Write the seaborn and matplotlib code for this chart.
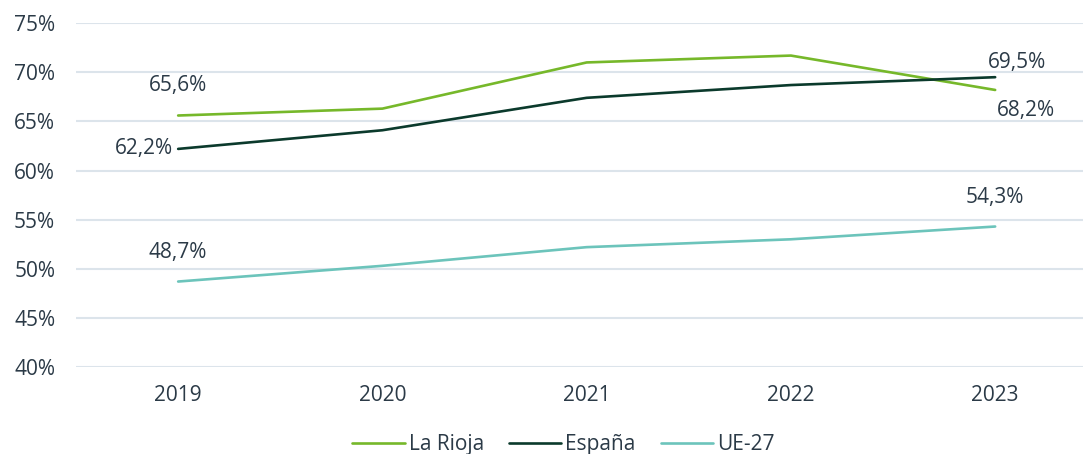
import matplotlib
matplotlib.use("Agg")
import matplotlib.pyplot as plt
import seaborn as sns
import pandas as pd
from matplotlib.ticker import FuncFormatter

# DATA ----------------------
years = ["2019", "2020", "2021", "2022", "2023"]
la_rioja = [65.6, 66.3, 71.0, 71.7, 68.2]
espana = [62.2, 64.1, 67.4, 68.7, 69.5]
ue27 = [48.7, 50.3, 52.2, 53.0, 54.3]
series_names = ["La Rioja", "España", "UE-27"]
colors = ["#76b82a", "#0b3a2c", "#6cc4bb"]

df = pd.DataFrame({
    "year": years * 3,
    "value": la_rioja + espana + ue27,
    "serie": [s for s in series_names for _ in years],
})

# PLOT ----------------------
sns.set_style("white")
plt.rcParams["font.family"] = ["Open Sans", "DejaVu Sans"]
text_col = "#2b3a47"
fs = 15

fig = plt.figure(figsize=(10.83, 4.54), dpi=100)
ax = fig.add_axes([0.0702, 0.1916, 0.9298, 0.7574])

sns.lineplot(data=df, x="year", y="value", hue="serie", palette=colors,
             hue_order=series_names, linewidth=1.9, ax=ax, sort=False)

ax.set_ylim(40, 75)
ax.set_xlim(-0.5, 4.43)
ax.set_yticks(range(40, 76, 5))
ax.yaxis.set_major_formatter(FuncFormatter(lambda v, p: f"{v:.0f}%"))
ax.grid(axis="y", color="#dce4eb", linewidth=1.5)
ax.set_axisbelow(True)
for s in ax.spines.values():
    s.set_visible(False)
ax.set_xlabel("")
ax.set_ylabel("")
ax.tick_params(axis="both", length=0, labelsize=fs, colors=text_col)
ax.tick_params(axis="y", pad=15)
ax.tick_params(axis="x", pad=13)

def fmt(v):
    return f"{v:.1f}%".replace(".", ",")

# data labels
lab = dict(fontsize=fs, color=text_col)
ax.annotate(fmt(la_rioja[0]), (0, la_rioja[0]), xytext=(0, 14), textcoords="offset points", ha="center", va="bottom", **lab)
ax.annotate(fmt(espana[0]), (0, espana[0]), xytext=(-4, 0), textcoords="offset points", ha="right", va="center", **lab)
ax.annotate(fmt(ue27[0]), (0, ue27[0]), xytext=(0, 13), textcoords="offset points", ha="center", va="bottom", **lab)
ax.annotate(fmt(espana[4]), (4, espana[4]), xytext=(-5, 3), textcoords="offset points", ha="left", va="bottom", **lab)
ax.annotate(fmt(la_rioja[4]), (4, la_rioja[4]), xytext=(1, -7), textcoords="offset points", ha="left", va="top", **lab)
ax.annotate(fmt(ue27[4]), (4, ue27[4]), xytext=(0, 13), textcoords="offset points", ha="center", va="bottom", **lab)

leg = ax.legend(loc="lower center", bbox_to_anchor=(0.484, -0.31), ncol=3, frameon=False,
                fontsize=fs, handlelength=2.5, handletextpad=0.2, columnspacing=1.2)
for t in leg.get_texts():
    t.set_color(text_col)

fig.savefig("out.png", dpi=100)
